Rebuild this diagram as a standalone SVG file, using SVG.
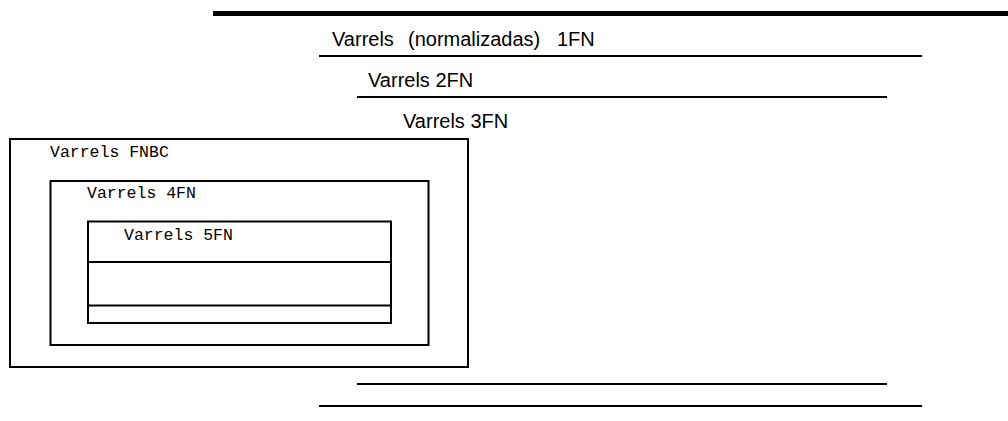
<svg xmlns="http://www.w3.org/2000/svg" width="1008" height="421" viewBox="0 0 1008 421">
<style>
.sans{font-family:"Liberation Sans",Arial,sans-serif;font-size:20px;fill:#000}
.mono{font-family:"Liberation Mono","Courier New",monospace;font-size:16.5px;fill:#000}
.ln{stroke:#000;stroke-width:2;fill:none}
.box{stroke:#000;stroke-width:2;fill:none}
</style>
<rect width="1008" height="421" fill="#fff"/>
<g id="connectors">
<line x1="213" y1="13.5" x2="1008" y2="13.5" stroke="#000" stroke-width="5"/>
<line class="ln" x1="319" y1="56" x2="922" y2="56"/>
<line class="ln" x1="357" y1="97" x2="887" y2="97"/>
<line class="ln" x1="357" y1="384" x2="887" y2="384"/>
<line class="ln" x1="319" y1="406" x2="922" y2="406"/>
</g>
<g id="nf1"><text class="sans" y="45.5"><tspan x="332">Varrels</tspan><tspan x="408">(normalizadas)</tspan><tspan x="557">1FN</tspan></text></g>
<g id="nf2"><text class="sans" x="368" y="86.5">Varrels 2FN</text></g>
<g id="nf3"><text class="sans" x="403" y="128">Varrels 3FN</text></g>
<g id="fnbc"><rect class="box" x="10" y="139" width="458" height="228"/><text class="mono" x="50" y="157">Varrels FNBC</text></g>
<g id="fn4"><rect class="box" x="50.5" y="181" width="378" height="164"/><text class="mono" x="87" y="198">Varrels 4FN</text></g>
<g id="fn5"><rect class="box" x="88" y="221.5" width="303" height="101.5"/><line class="ln" x1="88" y1="262" x2="391" y2="262"/><line class="ln" x1="88" y1="305.5" x2="391" y2="305.5"/><text class="mono" x="124" y="240">Varrels 5FN</text></g>
</svg>
